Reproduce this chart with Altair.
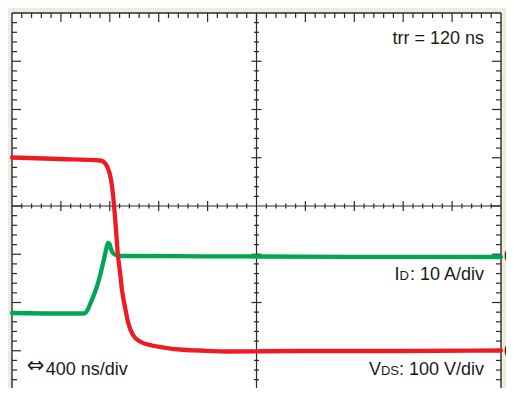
import altair as alt
import pandas as pd
import numpy as np

# ---- Data (time in divisions of 400 ns, amplitude in vertical divisions) ----
vds_x = [0.0, 0.98, 1.80, 1.88, 1.94, 2.00, 2.045, 2.086, 2.127, 2.168, 2.209, 2.249,
         2.311, 2.372, 2.474, 2.638, 2.863, 3.108, 3.436, 3.845, 4.458, 5.89, 7.935, 10.0]
vds_y = [5.005, 4.974, 4.943, 4.912, 4.829, 4.663, 4.415, 4.021, 3.503, 2.964, 2.632, 2.259,
         1.907, 1.596, 1.326, 1.181, 1.109, 1.067, 1.026, 1.005, 0.984, 0.995, 0.995, 1.005]

id_x = [0.0, 0.98, 1.472, 1.534, 1.616, 1.697, 1.759, 1.82, 1.881, 1.922, 1.963, 1.994,
        2.025, 2.065, 2.127, 2.229, 3.845, 6.912, 10.0]
id_y = [1.782, 1.772, 1.772, 1.824, 2.010, 2.218, 2.404, 2.632, 2.902, 3.088, 3.233, 3.212,
        3.109, 3.026, 2.984, 2.964, 2.958, 2.947, 2.943]

zero_levels = [2.94, 0.98]
zero_labels = ["0", "0"]

title_text = "trr = 120 ns"
arrow_text = "\u21d4"
time_text = "400 ns/div"
id_parts = ["I", "D", ": 10 A/div"]
vds_parts = ["V", "DS", ": 100 V/div"]

X_DIVS = 10
Y_DIVS = 8
Y_LOW = 0.228  # bottom of the visible part of the screen (lower edge is cropped)

RED = "#ED1C24"
GREEN = "#00A651"
INK = "#2a2a2a"
FONT = "Liberation Sans"

xs = alt.Scale(domain=[0, X_DIVS], nice=False, zero=False)
ys = alt.Scale(domain=[Y_LOW, Y_DIVS], nice=False, zero=False)
X = lambda f: alt.X(f, type="quantitative", scale=xs, axis=None)
Y = lambda f: alt.Y(f, type="quantitative", scale=ys, axis=None)

# ---- graticule tick positions ----
xmin = [v / 5 for v in range(1, X_DIVS * 5) if v % 5 != 0]
xmaj = list(range(1, X_DIVS))
ymin = [v / 5 for v in range(1, Y_DIVS * 5) if v % 5 != 0 and v / 5 > Y_LOW]
ymaj = list(range(1, Y_DIVS))

layers = []

def vticks(xvals, yval, size, yoff):
    df = pd.DataFrame({"x": xvals, "y": [yval] * len(xvals)})
    return alt.Chart(df).mark_tick(orient="vertical", size=size, thickness=1.2,
                                   color=INK, yOffset=yoff, opacity=1).encode(x=X("x"), y=Y("y"))

def hticks(yvals, xval, size, xoff):
    df = pd.DataFrame({"x": [xval] * len(yvals), "y": yvals})
    return alt.Chart(df).mark_tick(orient="horizontal", size=size, thickness=1.2,
                                   color=INK, xOffset=xoff, opacity=1).encode(x=X("x"), y=Y("y"))

# border (top, left, right; bottom edge is out of view)
bv = pd.DataFrame({"x": [0, X_DIVS], "y": [Y_LOW, Y_LOW], "y2": [Y_DIVS, Y_DIVS]})
bh = pd.DataFrame({"x": [0], "x2": [X_DIVS], "y": [Y_DIVS]})
layers.append(alt.Chart(bv).mark_rule(color=INK, strokeWidth=1.4).encode(x=X("x"), y=Y("y"), y2="y2"))
layers.append(alt.Chart(bh).mark_rule(color=INK, strokeWidth=1.4).encode(x=X("x"), x2="x2", y=Y("y")))

# border ticks (inward)
layers += [vticks(xmin, Y_DIVS, 5, 2.5), vticks(xmaj, Y_DIVS, 9, 4.5),
           hticks(ymin, 0, 5, 2.5), hticks(ymaj, 0, 9, 4.5),
           hticks(ymin, X_DIVS, 5, -2.5), hticks(ymaj, X_DIVS, 9, -4.5)]

# center cross lines
cx = pd.DataFrame({"x": [X_DIVS / 2], "y": [Y_LOW], "y2": [Y_DIVS]})
cy = pd.DataFrame({"x": [0], "x2": [X_DIVS], "y": [Y_DIVS / 2]})
layers.append(alt.Chart(cx).mark_rule(color=INK, strokeWidth=1.2).encode(x=X("x"), y=Y("y"), y2="y2"))
layers.append(alt.Chart(cy).mark_rule(color=INK, strokeWidth=1.2).encode(x=X("x"), x2="x2", y=Y("y")))
layers += [vticks(xmin, Y_DIVS / 2, 5, 0), vticks([v for v in xmaj if v != 5], Y_DIVS / 2, 10, 0),
           hticks(ymin, X_DIVS / 2, 5, 0), hticks([v for v in ymaj if v != 4], X_DIVS / 2, 10, 0)]

# traces
id_df = pd.DataFrame({"t": id_x, "v": id_y})
vds_df = pd.DataFrame({"t": vds_x, "v": vds_y})
layers.append(alt.Chart(id_df).mark_line(color=GREEN, strokeWidth=4.3, interpolate="monotone",
                                         strokeCap="round").encode(x=X("t"), y=Y("v"), order="t:Q"))
layers.append(alt.Chart(vds_df).mark_line(color=RED, strokeWidth=4.3, interpolate="monotone",
                                          strokeCap="round").encode(x=X("t"), y=Y("v"), order="t:Q"))

# annotations
def label(text, x, y, size=18, align="right", dx=0, baseline="alphabetic", font=FONT):
    df = pd.DataFrame({"x": [x], "y": [y], "s": [text]})
    return alt.Chart(df).mark_text(font=font, fontSize=size, align=align, baseline=baseline,
                                   dx=dx, color="#1a1a1a").encode(x=X("x"), y=Y("y"), text="s:N")

RX = 9.652
layers.append(label(title_text, RX, 7.35))
layers.append(label(id_parts[2], RX, 2.466))
layers.append(label(id_parts[1], RX, 2.466, size=13, dx=-75))
layers.append(label(id_parts[0], RX, 2.466, dx=-84.4))
layers.append(label(vds_parts[2], RX, 0.497))
layers.append(label(vds_parts[1], RX, 0.497, size=13, dx=-85))
layers.append(label(vds_parts[0], RX, 0.497, dx=-103))
layers.append(label(arrow_text, 0.30, 0.55, size=21, align="left", font="DejaVu Sans"))
layers.append(label(time_text, 0.30, 0.497, size=18, align="left", dx=19))
zdf = pd.DataFrame({"x": [X_DIVS] * 2, "y": zero_levels, "s": zero_labels})
layers.append(alt.Chart(zdf).mark_text(font=FONT, fontSize=18, align="left", baseline="middle",
                                       dx=3, color="#1a1a1a").encode(x=X("x"), y=Y("y"), text="s:N"))

chart = alt.layer(*layers).properties(
    width=489, height=375,
    autosize=alt.AutoSizeParams(type="none"),
    padding={"left": 4, "top": 5, "right": 5, "bottom": 0},
    background="#EFEBE1",
).configure_view(fill="white", stroke="transparent", strokeWidth=0)

chart.save("out.html", embed_options={"renderer": "svg", "actions": False})
